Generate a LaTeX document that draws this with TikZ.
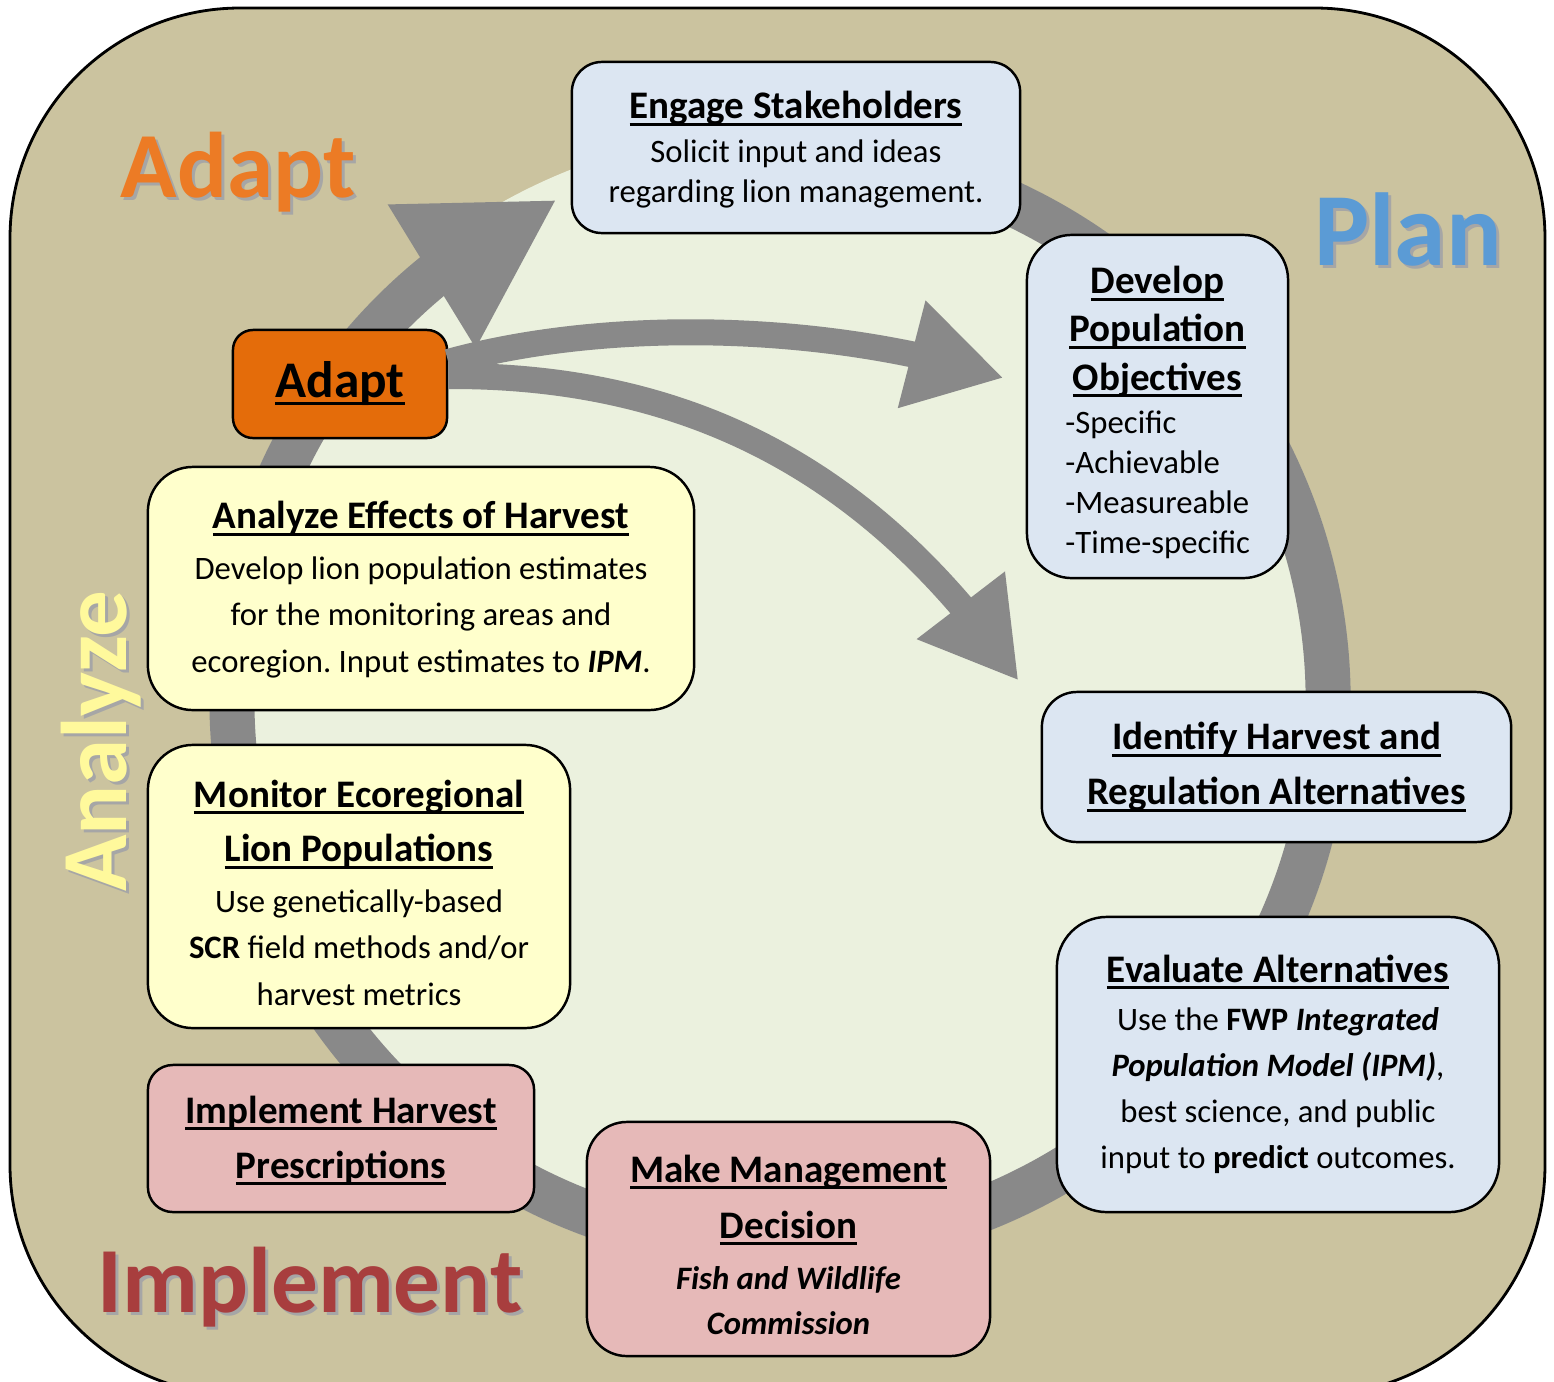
\documentclass[tikz,border=0pt]{standalone}
\usepackage{fontspec}
\setmainfont{Carlito}
\usetikzlibrary{arrows.meta,bending}
\frenchspacing

\definecolor{tanbg}{HTML}{CBC39F}
\definecolor{diskgreen}{HTML}{EBF1DE}
\definecolor{ringgray}{HTML}{898989}
\definecolor{planbox}{HTML}{DCE6F2}
\definecolor{analyzebox}{HTML}{FFFFCC}
\definecolor{implementbox}{HTML}{E6B9B8}
\definecolor{adaptbox}{HTML}{E46C0A}
\definecolor{adaptword}{HTML}{EC7B25}
\definecolor{planword}{HTML}{5B9BD5}
\definecolor{analyzeword}{HTML}{FFF99C}
\definecolor{implementword}{HTML}{A83E3E}
\definecolor{wordshadow}{HTML}{A6A6A6}

\newcommand{\ulbox}[1]{\setbox0\hbox{#1}\leavevmode\rlap{\rule[-2pt]{\wd0}{0.8pt}}\box0}
\newcommand{\hd}[1]{{\fontsize{11.1}{11.4}\selectfont\bfseries\ulbox{#1}}}
\newcommand{\hdtop}[2][0pt]{\raisebox{0pt}[\dimexpr\height+#1\relax]{\hd{#2}}}

\begin{document}
\begin{tikzpicture}[x=0.01cm,y=-0.01cm,
    box/.style={draw=black, line width=0.7pt, align=center, inner sep=0pt, font=\fontsize{9.3}{11.4}\selectfont},
    bigword/.style={anchor=base, inner sep=0pt, font=\fontsize{26.5}{27}\selectfont\bfseries},
    adaptarrow/.style={ringgray, line width=0.26cm, -{Triangle[length=0.95cm,width=1.04cm]}}]

    \useasboundingbox (0,0) rectangle (1554,1381);
    \fill[white] (0,0) rectangle (1554,1381);
    \draw[fill=tanbg, line width=0.8pt, rounded corners=2.3cm] (10,8) rectangle (1545,1395);

    % cycle
    \fill[diskgreen] (780,700) circle[radius=570];
    \draw[ringgray, line width=0.45cm, -{Triangle[length=1.47cm,width=1.57cm,flex]}] (780,700) ++(-108:548) arc[start angle=-108, end angle=246, radius=548];

    % phase words
    \node[bigword, text=wordshadow] (adaptshadow) at (241,200) {Adapt};
    \node[bigword, text=adaptword] (adaptword) at (238,197) {Adapt};
    \node[bigword, text=wordshadow, font=\fontsize{29.5}{30}\selectfont\bfseries] (planshadow) at (1411,268) {Plan};
    \node[bigword, text=planword, font=\fontsize{29.5}{30}\selectfont\bfseries] (planword) at (1408,265) {Plan};
    \node[bigword, text=wordshadow, rotate=90] (analyzeshadow) at (129,744) {Analyze};
    \node[bigword, text=analyzeword, rotate=90] (analyzeword) at (126,741) {Analyze};
    \node[bigword, text=wordshadow] (implementshadow) at (313,1315) {Implement};
    \node[bigword, text=implementword] (implementword) at (310,1312) {Implement};

    % steps
    \node[box, fill=planbox, minimum width=4.48cm, minimum height=1.71cm, rounded corners=0.3cm] (engage) at (796,147.5)
        {\hdtop[1.2pt]{Engage Stakeholders}\\[1.1pt] Solicit input and ideas\\ regarding lion management.};
    \node[box, fill=planbox, minimum width=2.61cm, minimum height=3.43cm, rounded corners=0.45cm] (develop) at (1157.5,406.5)
        {\hdtop[3.4pt]{Develop}\\[2.3pt] \hd{Population}\\[2.3pt] \hd{Objectives}\\[0.8pt]
         \makebox[1.84cm][l]{-Specific}\\ \makebox[1.84cm][l]{-Achievable}\\
         \makebox[1.84cm][l]{-Measureable}\\ \makebox[1.84cm][l]{-Time-specific}};
    \node[box, fill=planbox, minimum width=4.69cm, minimum height=1.5cm, rounded corners=0.35cm] (identify) at (1276.5,767)
        {\hd{Identify Harvest and}\\[4.2pt] \hd{Regulation Alternatives}};
    \node[box, fill=planbox, minimum width=4.42cm, minimum height=2.95cm, rounded corners=0.5cm] (evaluate) at (1278,1064.5)
        {\hd{Evaluate Alternatives}\\[2.4pt] Use the \textbf{FWP \textit{Integrated}}\\[1.7pt]
         \textbf{\textit{Population Model (IPM)}},\\[1.7pt] best science, and public\\[1.7pt]
         input to \textbf{predict} outcomes.};
    \node[box, fill=implementbox, minimum width=4.03cm, minimum height=2.34cm, rounded corners=0.4cm] (decision) at (788.5,1239)
        {\hdtop[3.2pt]{Make Management}\\[4.5pt] \hd{Decision}\\[3.1pt] \textbf{\textit{Fish and Wildlife}}\\[1.4pt] \textbf{\textit{Commission}}};
    \node[box, fill=implementbox, minimum width=3.86cm, minimum height=1.47cm, rounded corners=0.25cm] (implement) at (341,1138.5)
        {\hdtop[1.1pt]{Implement Harvest}\\[4.2pt] \hd{Prescriptions}};
    \node[box, fill=analyzebox, minimum width=4.22cm, minimum height=2.83cm, rounded corners=0.45cm] (monitor) at (359,886.5)
        {\hdtop[3.4pt]{Monitor Ecoregional}\\[4.2pt] \hd{Lion Populations}\\[3.1pt] Use genetically-based\\[1.7pt]
         \textbf{SCR} field methods and/or\\[1.7pt] harvest metrics};
    \node[box, fill=analyzebox, minimum width=5.46cm, minimum height=2.43cm, rounded corners=0.45cm] (analyze) at (421,588.5)
        {\hdtop[0.6pt]{Analyze Effects of Harvest}\\[3.1pt] Develop lion population estimates\\[1.7pt]
         for the monitoring areas and\\[1.7pt] ecoregion. Input estimates to \textbf{\textit{IPM}}.};
    \node[box, fill=adaptbox, minimum width=2.14cm, minimum height=1.08cm, rounded corners=0.2cm] (adapt) at (340,384)
        {{\fontsize{14.6}{15}\selectfont\bfseries\ulbox{Adapt}}};

    % adapt feeds back into planning
    \draw[adaptarrow] ([yshift=0.22cm]adapt.east) .. controls (600,320) and (820,320) .. ([xshift=-0.22cm,yshift=0.285cm]develop.west);
    \draw[adaptarrow] ([yshift=0.08cm]adapt.east) .. controls (700,375) and (880,480) .. ([xshift=-0.22cm,yshift=0.1cm]identify.north west);

\end{tikzpicture}
\end{document}
